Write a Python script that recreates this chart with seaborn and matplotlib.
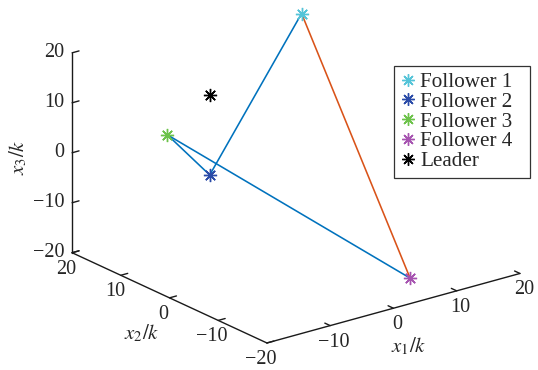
import numpy as np
import pandas as pd
import matplotlib
matplotlib.use("Agg")
import matplotlib.pyplot as plt
import seaborn as sns
from matplotlib.lines import Line2D
from mpl_toolkits.mplot3d import proj3d

# ---------------- data ----------------
agents = ["Follower 1", "Follower 2", "Follower 3", "Follower 4", "Leader"]
x1_vals = [11.2, -11.1, -6.7, 8.1, -11.1]
x2_vals = [13.4, 3.3, 17.7, -12.9, 3.3]
x3_vals = [20.0, 0.0, 0.0, -20.0, 16.0]
agent_colors = ["#55C4D8", "#2A4BA8", "#6CC24A", "#A653B0", "#000000"]
blue_links = [("Follower 3", "Follower 2"), ("Follower 2", "Follower 1"),
              ("Follower 3", "Follower 4")]
red_links = [("Follower 1", "Follower 4")]
tick_vals = [-20, -10, 0, 10, 20]
tick_text = ["\u221220", "\u221210", "0", "10", "20"]
x1_tick_vals = [-10, 0, 10, 20]
x1_tick_text = ["\u221210", "0", "10", "20"]

df = pd.DataFrame({"agent": agents, "x1": x1_vals, "x2": x2_vals,
                   "x3": x3_vals, "color": agent_colors}).set_index("agent")

# ---------------- style ----------------
sns.set_theme(style="white")
plt.rcParams["font.family"] = ["Liberation Serif", "DejaVu Serif"]
plt.rcParams["mathtext.fontset"] = "stix"
plt.rcParams["axes.unicode_minus"] = True

W, H = 538, 370
fig = plt.figure(figsize=(W / 100, H / 100), dpi=100)
S0 = H
ax = fig.add_axes([0, 0, S0 / W, S0 / H], projection="3d", computed_zorder=False)
ax.set_proj_type("ortho")
ax.view_init(elev=20.9, azim=-127.6)
ax.set_box_aspect((1, 1, 0.67))
ax.set_axis_off()

lo, hi = tick_vals[0], tick_vals[-1]

# axis lines and tick marks
axc = "#1a1a1a"
alw = 1.0
tl = 1.1
ax.plot([lo, hi], [lo, lo], [lo, lo], color=axc, lw=alw, zorder=1)
ax.plot([lo, lo], [lo, hi], [lo, lo], color=axc, lw=alw, zorder=1)
ax.plot([lo, lo], [hi, hi], [lo, hi], color=axc, lw=alw, zorder=1)
for t in x1_tick_vals:
    ax.plot([t, t], [lo, lo + tl], [lo, lo], color=axc, lw=alw, zorder=1)
for t in tick_vals:
    ax.plot([lo, lo + tl], [t, t], [lo, lo], color=axc, lw=alw, zorder=1)
    ax.plot([lo, lo + tl], [hi, hi], [t, t], color=axc, lw=alw, zorder=1)

# links
for links, col in ((blue_links, "#0072BD"), (red_links, "#D95319")):
    for a, b in links:
        ax.plot([df.loc[a, "x1"], df.loc[b, "x1"]],
                [df.loc[a, "x2"], df.loc[b, "x2"]],
                [df.loc[a, "x3"], df.loc[b, "x3"]],
                color=col, lw=1.15, zorder=2)

# agents
marker = (8, 2, 0)
for name, row in df.iterrows():
    ax.plot([row["x1"]], [row["x2"]], [row["x3"]], linestyle="none",
            marker=marker, markersize=9.5, markeredgewidth=1.0,
            color=row["color"], zorder=3, label=name)

ax.set_xlim(lo, hi)
ax.set_ylim(lo, hi)
ax.set_zlim(lo, hi)

# ---------------- fit layout so that box corners land in place ----------------
fig.canvas.draw()


def to_img(p):
    xs, ys, _ = proj3d.proj_transform(p[0], p[1], p[2], ax.get_proj())
    dx, dy = ax.transData.transform((xs, ys))
    return dx, H - dy


corners3d = [(lo, lo, lo), (lo, hi, lo), (hi, lo, lo), (lo, hi, hi)]
targets = [(267, 343), (72, 253), (520, 273), (72, 53)]
rows, rhs = [], []
for c, (tx, ty) in zip(corners3d, targets):
    px, py = to_img(c)
    u, v = px / S0, py / S0
    rows.append([1, 0, u]); rhs.append(tx)
    rows.append([0, 1, v]); rhs.append(ty)
Lf, Tf, Sf = np.linalg.lstsq(np.array(rows, float), np.array(rhs, float), rcond=None)[0]
ax.set_position([Lf / W, (H - (Tf + Sf)) / H, Sf / W, Sf / H])
fig.canvas.draw()


def ftext(px, py, s, **kw):
    fig.text(px / W, 1 - py / H, s, **kw)


# tick labels placed from the projected tick positions
tfs = 14.5
for t, s in zip(x1_tick_vals, x1_tick_text):
    px, py = to_img((t, lo, lo))
    ftext(px + 4, py + 16.5, s, ha="center", va="center", fontsize=tfs)
for t, s in zip(tick_vals, tick_text):
    px, py = to_img((lo, t, lo))
    ftext(px - 6, py + 16.5, s, ha="center", va="center", fontsize=tfs)
for t, s in zip(tick_vals, tick_text):
    px, py = to_img((lo, hi, t))
    ftext(px - 8, py - 0.5, s, ha="right", va="center", fontsize=tfs)

# axis titles
ftext(18, 157, r"$x_3/k$", rotation=90, ha="center", va="center", fontsize=15)
ftext(142, 333, r"$x_2/k$", ha="center", va="center", fontsize=15)
ftext(409, 346, r"$x_1/k$", ha="center", va="center", fontsize=15)

# legend
leg = fig.legend(handles=[Line2D([], [], linestyle="none", marker=marker, markersize=9,
                                 markeredgewidth=1.0, color=c) for c in agent_colors],
                 labels=agents, loc="upper left", mode="expand",
                 bbox_to_anchor=(394 / W, 1 - 177 / H, 136 / W, 111 / H),
                 bbox_transform=fig.transFigure,
                 borderaxespad=0, frameon=True, fancybox=False, framealpha=1,
                 edgecolor="#333333", handlelength=0.75, handletextpad=0.2,
                 labelspacing=0.0, borderpad=0.3, fontsize=15.2)
leg.get_frame().set_linewidth(0.9)

fig.savefig("out.png", dpi=100)
